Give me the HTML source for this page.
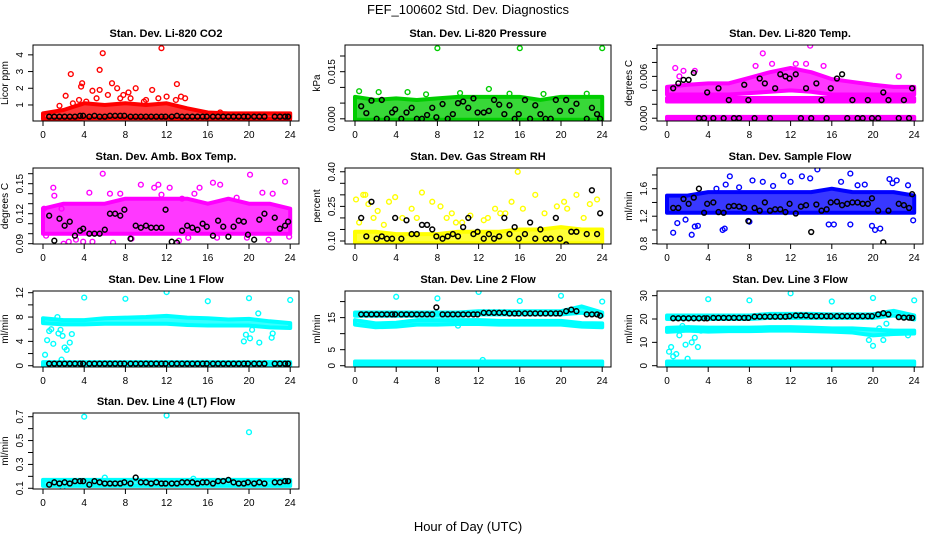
<!DOCTYPE html>
<html><head><meta charset="utf-8"><style>
html,body{margin:0;padding:0;background:#fff}
svg{display:block;font-family:"Liberation Sans",sans-serif}
</style></head><body>
<svg id="chart" width="936" height="540" viewBox="0 0 936 540">
<text x="468" y="14" font-size="13" text-anchor="middle">FEF_100602  Std. Dev. Diagnostics</text>
<text x="468" y="531" font-size="13" text-anchor="middle">Hour of Day (UTC)</text>
</svg>
<script>
const xTicks=[0,4,8,12,16,20,24];
const bandHours=[0,2,4,6,8,10,12,14,16,18,20,22,24];
const blackHours=[0.6,1.1,1.6,2.1,2.6,3.1,3.6,3.9,4.5,5.0,5.5,6.0,6.5,7.0,7.5,7.9,8.5,9.0,9.5,10.0,10.5,11.0,11.5,11.9,12.5,13.0,13.5,14.0,14.5,15.0,15.5,15.9,16.5,17.0,17.5,18.0,18.5,19.0,19.5,19.9,20.5,21.0,21.5,22.5,23.0,23.5,23.8];

// CO2
const co2Lo=[0.15,0.15,0.2,0.2,0.2,0.2,0.2,0.15,0.15,0.15,0.15,0.15,0.15];
const co2Hi=[0.5,0.7,1.1,1.0,1.1,1.0,1.1,0.8,0.55,0.5,0.5,0.5,0.5];
const co2OutX=[2.7,5.5,5.8,11.5,13,3.8,3.7,2.2,4.8,5.5,6.7,7.2,9,10.6,13.8,12,7.8,8.3,3.5,1.6,2.9,17.2,5.2,10,12.9,8.5,6.3,9.8,11.2,13.4,4.2,7.5];
const co2OutY=[2.85,3.1,4.1,4.4,2.25,2.3,2.1,1.55,1.85,1.9,2.3,2.0,2.0,1.9,1.4,1.5,1.6,1.75,1.3,0.95,1.1,0.55,1.4,1.3,1.3,1.4,1.6,1.2,1.4,1.5,1.2,1.4];
const co2Black=[0.3,0.3,0.3,0.3,0.3,0.3,0.35,0.35,0.3,0.35,0.3,0.3,0.35,0.35,0.35,0.35,0.3,0.3,0.3,0.3,0.3,0.3,0.3,0.3,0.3,0.35,0.3,0.3,0.3,0.3,0.3,0.3,0.3,0.3,0.3,0.3,0.3,0.3,0.3,0.3,0.3,0.3,0.3,0.3,0.3,0.3,0.3];
// Pressure
const prLo=[-0.0003,-0.0003,-0.0003,-0.0003,-0.0003,-0.0003,-0.0003,-0.0003,-0.0003,-0.0003,-0.0003,-0.0003,-0.0003];
const prHi=[0.007,0.006,0.0065,0.006,0.0065,0.007,0.007,0.007,0.007,0.006,0.007,0.007,0.007];
const prOutX=[8,16,24,13,0.4,2.3,5.1,6.9,15,22.5,10.2,18.3];
const prOutY=[0.0225,0.0225,0.0225,0.0095,0.0088,0.0085,0.0085,0.0078,0.008,0.008,0.0082,0.0079];
const prBlack=[0.004,0.0018,0.0058,0.0,0.006,0.0,0.002,0.003,0.0,0.002,0.0035,0.0,0.0,0.0012,0.0035,0.0005,0.0047,0.0,0.0015,0.005,0.0055,0.0035,0.0065,0.002,0.002,0.0025,0.006,0.0045,0.0015,0.0043,0.0,0.0015,0.006,0.0,0.0043,0.0015,0.0,0.0,0.006,0.0025,0.006,0.0025,0.0048,0.0,0.0035,0.0015,0.0];
// Li-820 Temp
const tZeroLo=[-0.0002,-0.0002,-0.0002,-0.0002,-0.0002,-0.0002,-0.0002,-0.0002,-0.0002,-0.0002,-0.0002,-0.0002,-0.0002];
const tZeroHi=[0.0002,0.0002,0.0002,0.0002,0.0002,0.0002,0.0002,0.0002,0.0002,0.0002,0.0002,0.0002,0.0002];
const tMidLo=[0.0024,0.0024,0.0024,0.0024,0.0024,0.0024,0.0024,0.0024,0.0024,0.0024,0.0024,0.0024,0.0024];
const tMidHi=[0.0029,0.0029,0.0029,0.0029,0.0029,0.0029,0.0029,0.0029,0.0029,0.0029,0.0029,0.0029,0.0029];
const tUpLo=[0.0034,0.0034,0.0034,0.0034,0.0036,0.0038,0.004,0.0038,0.0034,0.0034,0.0034,0.0034,0.0034];
const tUpHi=[0.0045,0.0048,0.005,0.005,0.0058,0.0066,0.0072,0.0066,0.0056,0.0052,0.0048,0.0045,0.0045];
const tOutX=[0.8,1.6,2.7,9.3,13.9,15.2,22.5,12.5,13.5,8.6,10.2,1.2];
const tOutY=[0.0072,0.0068,0.0068,0.0093,0.0104,0.0075,0.006,0.0078,0.0078,0.0075,0.0078,0.006];
const tBlack=[0.0043,0.005,0.0055,0.0055,0.0065,0.0,0.0,0.0037,0.0,0.0043,0.0,0.0026,0.0,0.0,0.0048,0.0026,0.0,0.0057,0.005,0.0,0.0043,0.0063,0.006,0.0057,0.0063,0.0,0.0043,0.0,0.005,0.0026,0.0,0.0043,0.0057,0.0063,0.0,0.0026,0.0,0.0,0.0026,0.0,0.0,0.0037,0.0026,0.0,0.0026,0.0,0.0043];
// Amb box temp
const abLo=[0.1,0.1,0.1,0.1,0.1,0.1,0.1,0.1,0.1,0.1,0.1,0.1,0.1];
const abHi=[0.125,0.13,0.13,0.13,0.135,0.135,0.135,0.135,0.13,0.135,0.13,0.13,0.125];
const abOutX=[0.1,1.0,1.1,2.5,3.2,4.5,5.8,6.5,7.5,9.5,10.8,11.2,12.3,13.5,14.7,15.2,16.5,17.2,18.8,20.1,21.3,22.3,23.5,0.3,1.8,3.9,4.8,6.8,8.6,11.5,13.2,16.9,19.8,21.9,23.9,2.0,14.1];
const abOutY=[0.125,0.146,0.138,0.092,0.094,0.141,0.16,0.14,0.14,0.149,0.146,0.149,0.146,0.135,0.14,0.146,0.151,0.149,0.136,0.159,0.141,0.14,0.152,0.098,0.125,0.092,0.092,0.091,0.095,0.139,0.093,0.096,0.096,0.094,0.097,0.09,0.096];
const abBlack=[0.118,0.093,0.115,0.108,0.112,0.098,0.103,0.105,0.1,0.1,0.1,0.104,0.12,0.12,0.118,0.124,0.095,0.108,0.106,0.108,0.106,0.106,0.106,0.124,0.092,0.091,0.103,0.108,0.106,0.104,0.11,0.107,0.098,0.113,0.107,0.097,0.107,0.113,0.112,0.099,0.094,0.114,0.12,0.116,0.105,0.108,0.112];
// RH
const rhLo=[0.09,0.09,0.09,0.09,0.09,0.09,0.09,0.09,0.09,0.09,0.09,0.09,0.09];
const rhHi=[0.14,0.14,0.13,0.13,0.13,0.14,0.14,0.14,0.15,0.15,0.16,0.15,0.15];
const rhOutX=[0.1,0.8,1.0,1.3,2.2,3.3,3.9,5.5,6.5,7.5,8.3,9.4,11.2,12.5,14.1,15.2,15.8,17.5,19.6,20.3,21.5,22.8,23.5,0.4,1.8,2.8,4.6,6.0,8.9,10.4,12.9,14.6,16.3,18.4,20.6,22.2,9.8,13.6];
const rhOutY=[0.28,0.3,0.3,0.26,0.23,0.27,0.29,0.24,0.31,0.27,0.25,0.22,0.21,0.19,0.22,0.27,0.4,0.3,0.25,0.27,0.3,0.26,0.28,0.18,0.2,0.17,0.2,0.2,0.2,0.18,0.2,0.22,0.24,0.22,0.24,0.2,0.18,0.24];
const rhBlack=[0.2,0.12,0.27,0.11,0.12,0.11,0.11,0.2,0.11,0.19,0.13,0.13,0.17,0.17,0.15,0.12,0.11,0.12,0.13,0.12,0.16,0.2,0.13,0.14,0.11,0.13,0.11,0.12,0.2,0.13,0.16,0.11,0.13,0.18,0.11,0.15,0.11,0.11,0.2,0.11,0.085,0.14,0.14,0.13,0.32,0.13,0.22];
// Sample flow
const sfLo=[1.25,1.25,1.25,1.25,1.25,1.25,1.25,1.25,1.25,1.25,1.25,1.25,1.25];
const sfHi=[1.5,1.5,1.55,1.55,1.55,1.55,1.55,1.55,1.6,1.55,1.55,1.55,1.5];
const sfOutX=[0.6,1.8,2.4,3.0,4.8,5.4,6.1,7.0,8.3,9.3,11.3,12.0,13.1,14.6,16.9,17.8,19.2,19.9,20.2,21.6,22.3,23.4,23.9,1.0,2.7,5.6,8.0,15.7,16.2,17.8,20.7,5.7,10.3,13.9,18.5,21.9];
const sfOutY=[0.96,1.15,0.93,1.06,1.6,1.0,1.78,1.62,1.72,1.7,1.79,1.7,1.78,1.88,1.7,1.82,1.66,1.06,1.0,1.74,1.72,1.65,1.14,1.1,1.05,1.02,1.12,1.08,1.08,1.08,1.02,1.66,1.64,1.75,1.65,1.68];
const sfBlack=[1.32,1.32,1.45,1.38,1.47,1.6,1.25,1.38,1.4,1.26,1.25,1.34,1.35,1.34,1.32,1.13,1.32,1.28,1.4,1.28,1.3,1.3,1.26,1.38,1.24,1.34,1.36,0.97,1.37,1.28,1.3,1.4,1.41,1.36,1.38,1.4,1.4,1.38,1.38,1.46,1.28,0.82,1.28,1.38,1.36,1.32,1.52];
// Line 1 flow
const l1TopLo=[7.0,6.8,6.8,6.9,6.9,6.9,6.9,6.7,6.6,6.6,6.6,6.3,6.2];
const l1TopHi=[7.8,7.5,7.5,7.8,7.9,8.0,8.2,7.9,7.8,7.6,7.7,7.3,7.0];
const l1BotLo=[0.0,0.0,0.0,0.0,0.0,0.0,0.0,0.0,0.0,0.0,0.0,0.0,0.0];
const l1BotHi=[0.6,0.6,0.6,0.6,0.6,0.6,0.6,0.6,0.6,0.6,0.6,0.6,0.6];
const l1OutX=[4,8,12,16,20,24,0.2,0.4,0.6,0.8,1.0,1.4,1.5,1.7,1.9,2.1,2.3,2.6,2.8,19.5,19.7,20.1,20.3,20.9,21.0,22.3,22.2,1.8];
const l1OutY=[11.2,11.0,12.1,10.6,11.1,10.8,1.8,4.2,5.7,6.0,3.6,8.0,5.3,5.9,4.9,3.0,2.6,3.8,5.2,4.0,5.1,4.5,5.9,8.6,3.8,5.3,4.6,1.0];
const l1Black=[0.35,0.35,0.35,0.35,0.35,0.35,0.35,0.35,0.35,0.35,0.35,0.35,0.35,0.35,0.35,0.35,0.35,0.35,0.35,0.35,0.35,0.35,0.35,0.35,0.35,0.35,0.35,0.35,0.35,0.35,0.35,0.35,0.35,0.35,0.35,0.35,0.35,0.35,0.35,0.35,0.35,0.35,0.35,0.35,0.35,0.35,0.35];
// Line 2 flow
const l2TopLo=[15.6,15.6,15.6,15.6,15.6,15.6,16.0,16.0,16.0,16.0,16.0,16.5,15.6];
const l2TopHi=[16.6,16.6,16.6,16.6,16.6,16.6,17.0,17.0,17.0,17.0,17.0,18.5,16.6];
const l2MidLo=[12.8,12.0,12.2,12.8,12.8,13.0,13.0,12.8,12.8,12.8,12.8,12.2,12.0];
const l2MidHi=[14.2,13.2,13.4,14.2,14.2,14.2,14.2,14.0,14.0,14.0,14.0,13.3,13.2];
const l2BotLo=[0.2,0.2,0.2,0.2,0.2,0.2,0.2,0.2,0.2,0.2,0.2,0.2,0.2];
const l2BotHi=[1.3,1.3,1.3,1.3,1.3,1.3,1.3,1.3,1.3,1.3,1.3,1.3,1.3];
const l2OutX=[4,8,12,16,20,24,10,12.4];
const l2OutY=[21.5,21.0,23.0,20.2,21.8,20.0,12.5,1.8];
const l2Black=[16,16,16,16,16,16,16,16,16,16,16,16,16,16,16,18.2,16,16,16,16,16,16,16,16,16.5,16.5,16.5,16.5,16.5,16.3,16.3,16.3,16.3,16.3,16.3,16.3,16.3,16.3,16.3,16.3,17.0,17.5,17.0,16.0,16.0,16.0,15.6];
// Line 3 flow
const l3TopLo=[20.0,20.0,20.0,20.0,20.0,20.5,20.5,20.5,20.5,20.5,20.5,21.5,19.8];
const l3TopHi=[21.5,21.5,21.5,21.5,21.5,22.2,22.2,22.2,22.0,22.0,22.0,23.5,21.5];
const l3MidLo=[14.5,15.0,14.6,14.8,14.8,15.0,15.0,14.8,14.6,14.2,13.0,13.6,13.8];
const l3MidHi=[16.2,16.5,16.3,16.3,16.3,16.5,16.5,16.3,16.0,16.0,15.5,15.0,15.0];
const l3BotLo=[0.3,0.3,0.3,0.3,0.3,0.3,0.3,0.3,0.3,0.3,0.3,0.3,0.3];
const l3BotHi=[1.8,1.8,1.8,1.8,1.8,1.8,1.8,1.8,1.8,1.8,1.8,1.8,1.8];
const l3OutX=[4,8,12,16,20,24,0.2,0.4,0.6,0.9,1.2,1.5,1.8,2.1,2.4,2.7,3.0,3.3,2.0,19.6,20.0,20.6,21.0,21.3,21.6,23.4];
const l3OutY=[28.5,28.0,31.0,27.5,29.0,28.0,6.0,8.0,4.0,5.0,13.0,17.0,9.0,16.0,10.0,12.0,8.0,15.0,3.0,11.0,8.5,16.0,11.0,18.0,14.0,13.0];
const l3Black=[20.3,20.3,20.3,20.3,20.3,20.3,20.3,20.3,20.5,20.5,20.5,20.5,20.5,20.5,20.5,20.5,21.0,21.0,21.0,21.0,21.0,21.0,21.0,21.2,21.5,21.5,21.5,21.2,21.2,21.2,21.2,21.2,21.2,21.2,21.2,21.2,21.2,21.2,21.2,21.2,22.0,22.5,22.0,20.8,20.6,20.6,20.5];
// Line 4 flow
const l4Lo=[0.12,0.12,0.12,0.12,0.12,0.12,0.12,0.12,0.12,0.12,0.12,0.12,0.12];
const l4Hi=[0.17,0.17,0.17,0.17,0.17,0.17,0.17,0.17,0.17,0.17,0.17,0.17,0.17];
const l4OutX=[4,12,20,1.9,6.0,14.6];
const l4OutY=[0.70,0.71,0.57,0.11,0.19,0.18];
const l4Black=[0.13,0.15,0.14,0.15,0.14,0.16,0.16,0.16,0.13,0.16,0.15,0.14,0.14,0.14,0.14,0.15,0.14,0.19,0.15,0.15,0.14,0.15,0.14,0.14,0.14,0.14,0.15,0.15,0.15,0.14,0.15,0.15,0.14,0.16,0.16,0.17,0.15,0.14,0.14,0.15,0.14,0.15,0.14,0.15,0.15,0.16,0.16];

const colLeft=[33,345,657], rowTop=[45,168,291,413], PW=266, PH=76;
const panels=[
 {name:'co2',title:'Stan. Dev. Li-820 CO2',yl:'Licor ppm',c:0,r:0,y0:0.04,y1:4.59,ticks:[1,2,3,4],labs:['1','2','3','4'],col:'#ff0000',bands:[[co2Lo,co2Hi]],ox:co2OutX,oy:co2OutY,blk:co2Black},
 {name:'pressure',title:'Stan. Dev. Li-820 Pressure',yl:'kPa',c:1,r:0,y0:-0.0007,y1:0.0235,ticks:[0,0.005,0.01,0.015,0.02],labs:['0.000','','','0.015',''],col:'#00cd00',bands:[[prLo,prHi]],ox:prOutX,oy:prOutY,blk:prBlack},
 {name:'li820-temp',title:'Stan. Dev. Li-820 Temp.',yl:'degrees C',c:2,r:0,y0:-0.0004,y1:0.0105,ticks:[0,0.002,0.004,0.006,0.008,0.01],labs:['0.000','','','0.006','',''],col:'#ff00ff',bands:[[tZeroLo,tZeroHi],[tMidLo,tMidHi],[tUpLo,tUpHi]],ox:tOutX,oy:tOutY,blk:tBlack},
 {name:'amb-box-temp',title:'Stan. Dev. Amb. Box Temp.',yl:'degrees C',c:0,r:1,y0:0.0897,y1:0.1657,ticks:[0.09,0.1,0.11,0.12,0.13,0.14,0.15,0.16],labs:['0.09','','','0.12','','','0.15',''],col:'#ff00ff',bands:[[abLo,abHi]],ox:abOutX,oy:abOutY,blk:abBlack},
 {name:'gas-rh',title:'Stan. Dev. Gas Stream RH',yl:'percent',c:1,r:1,y0:0.087,y1:0.4163,ticks:[0.1,0.15,0.2,0.25,0.3,0.35,0.4],labs:['0.10','','','0.25','','','0.40'],col:'#ffff00',bands:[[rhLo,rhHi]],ox:rhOutX,oy:rhOutY,blk:rhBlack},
 {name:'sample-flow',title:'Stan. Dev. Sample Flow',yl:'ml/min',c:2,r:1,y0:0.796,y1:1.901,ticks:[0.8,1.0,1.2,1.4,1.6,1.8],labs:['0.8','','1.2','','1.6',''],col:'#0000ff',bands:[[sfLo,sfHi]],ox:sfOutX,oy:sfOutY,blk:sfBlack},
 {name:'line1-flow',title:'Stan. Dev. Line 1 Flow',yl:'ml/min',c:0,r:2,y0:-0.21,y1:12.28,ticks:[0,2,4,6,8,10,12],labs:['0','','4','','8','','12'],col:'#00ffff',bands:[[l1TopLo,l1TopHi],[l1BotLo,l1BotHi]],ox:l1OutX,oy:l1OutY,blk:l1Black},
 {name:'line2-flow',title:'Stan. Dev. Line 2 Flow',yl:'ml/min',c:1,r:2,y0:-0.4,y1:23.3,ticks:[0,5,10,15,20],labs:['0','5','','15',''],col:'#00ffff',bands:[[l2TopLo,l2TopHi],[l2MidLo,l2MidHi],[l2BotLo,l2BotHi]],ox:l2OutX,oy:l2OutY,blk:l2Black},
 {name:'line3-flow',title:'Stan. Dev. Line 3 Flow',yl:'ml/min',c:2,r:2,y0:-0.56,y1:32.0,ticks:[0,10,20,30],labs:['0','10','20','30'],col:'#00ffff',bands:[[l3TopLo,l3TopHi],[l3MidLo,l3MidHi],[l3BotLo,l3BotHi]],ox:l3OutX,oy:l3OutY,blk:l3Black},
 {name:'line4-flow',title:'Stan. Dev. Line 4 (LT) Flow',yl:'ml/min',c:0,r:3,y0:0.094,y1:0.731,ticks:[0.1,0.2,0.3,0.4,0.5,0.6,0.7],labs:['0.1','','0.3','','0.5','','0.7'],col:'#00ffff',bands:[[l4Lo,l4Hi]],ox:l4OutX,oy:l4OutY,blk:l4Black}
];
const NS='http://www.w3.org/2000/svg';
const svg=document.getElementById('chart');
function mk(tag,attrs,parent,txt){const e=document.createElementNS(NS,tag);for(const k in attrs)e.setAttribute(k,attrs[k]);if(txt!==undefined)e.textContent=txt;parent.appendChild(e);return e;}
panels.forEach(p=>{
 const L=colLeft[p.c],T=rowTop[p.r],B=T+PH,R=L+PW;
 const xs=h=>L+10+h*10.3;
 const ys=v=>B-(v-p.y0)/(p.y1-p.y0)*PH;
 const g=mk('g',{},svg);
 
 
 const cp=mk('clipPath',{id:'cp-'+p.name},g);
 mk('rect',{x:L,y:T,width:PW,height:PH},cp);
 const t=mk('text',{x:(L+R)/2,y:T-8,'font-size':11,'font-weight':'bold','text-anchor':'middle'},g,p.title);
 
 
 const yl=mk('text',{x:0,y:0,'font-size':10,'text-anchor':'middle',transform:`translate(${L-25},${(T+B)/2}) rotate(-90)`},g,p.yl);
 
 
 const marks=mk('g',{'clip-path':`url(#cp-${p.name})`},g);
 
 
 p.bands.forEach((bd,bi)=>{
  const lo=bd[0],hi=bd[1];
  let pts=bandHours.map((h,i)=>xs(h)+','+ys(hi[i]));
  pts=pts.concat(bandHours.map((h,i)=>xs(h)+','+ys(lo[i])).reverse());
  const pg=mk('polygon',{points:pts.join(' '),fill:p.col,stroke:p.col,'stroke-width':4,'stroke-linejoin':'round','fill-opacity':0.78},marks);
  
  
 });
 p.ox.forEach((h,i)=>{
  const c=mk('circle',{cx:xs(h),cy:ys(p.oy[i]),r:2.4,fill:'none',stroke:p.col,'stroke-width':1.4},marks);
  
  
 });
 p.blk.forEach((v,i)=>{
  const c=mk('circle',{cx:xs(blackHours[i]),cy:ys(v),r:2.4,fill:'none',stroke:'#000','stroke-width':1.5},marks);
  
  
 });
 const box=mk('rect',{x:L,y:T,width:PW,height:PH,fill:'none',stroke:'#000','stroke-width':1},g);
 
 
 const xa=mk('g',{},g);
 
 
 mk('line',{x1:xs(0),x2:xs(24),y1:B,y2:B,stroke:'#000'},xa);
 xTicks.forEach(h=>{
  mk('line',{x1:xs(h),x2:xs(h),y1:B,y2:B+5,stroke:'#000'},xa);
  mk('text',{x:xs(h),y:B+17,'font-size':10,'text-anchor':'middle'},xa,String(h));
 });
 const ya=mk('g',{},g);
 
 
 p.ticks.forEach((v,i)=>{
  const y=ys(v);
  mk('line',{x1:L-5,x2:L,y1:y,y2:y,stroke:'#000'},ya);
  if(p.labs[i])mk('text',{x:0,y:0,'font-size':10,'text-anchor':'middle',transform:`translate(${L-10},${y}) rotate(-90)`},ya,p.labs[i]);
 });
});
</script>
</body></html>
